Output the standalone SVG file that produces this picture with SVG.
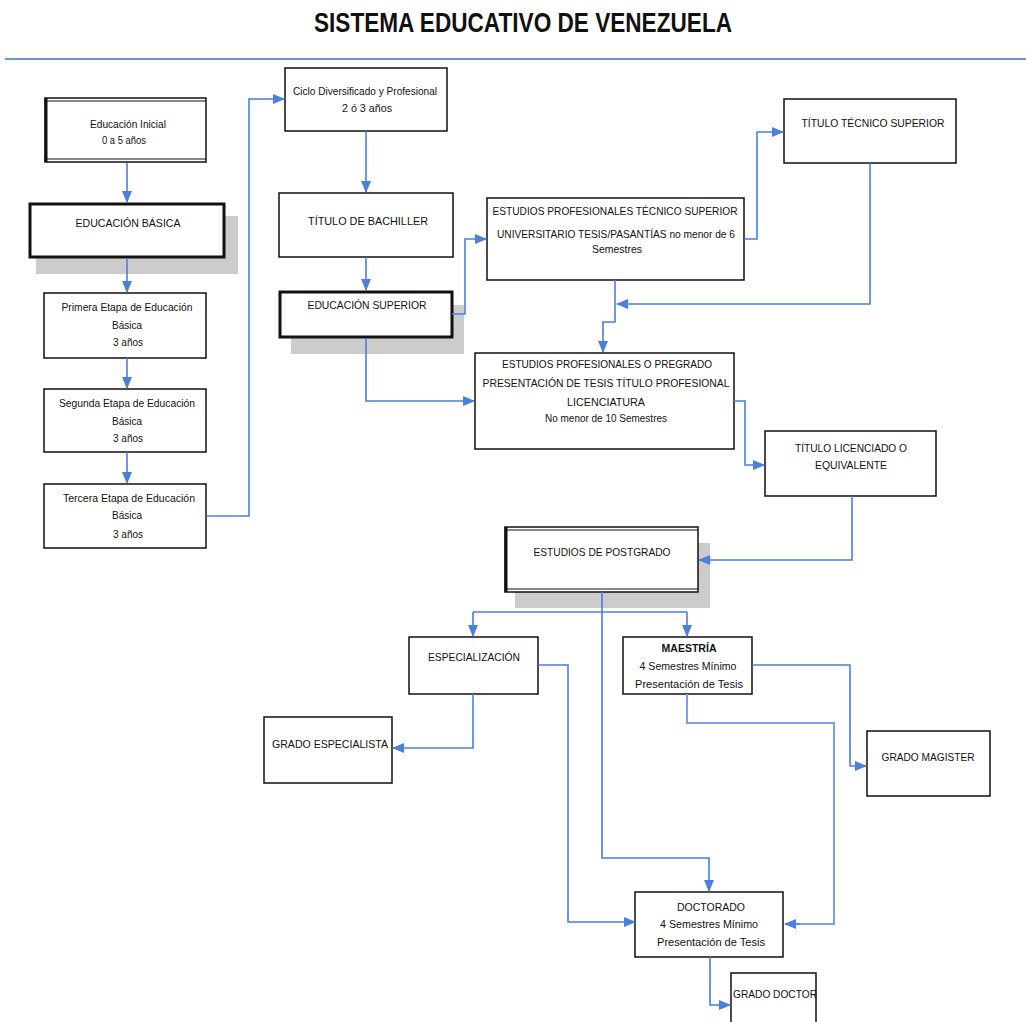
<svg xmlns="http://www.w3.org/2000/svg" width="1026" height="1022" viewBox="0 0 1026 1022">
<style>
.bx{fill:#fff;stroke:#111;stroke-width:1.5}
.thk{fill:#fff;stroke:#111;stroke-width:3}
.sh{fill:#cccccc}
.t{font-family:"Liberation Sans",Arial,sans-serif;font-size:11px;fill:#111;text-anchor:middle}
.c{fill:none;stroke:#4a7fdc;stroke-width:1.6}
.cl{fill:none;stroke:#7aa0ee;stroke-width:2}
</style>
<defs>
<marker id="ah" markerUnits="userSpaceOnUse" markerWidth="12" markerHeight="10" refX="11" refY="5" orient="auto">
<path d="M0,0 L12,5 L0,10 Z" fill="#4a7fdc"/>
</marker>
</defs>
<rect width="1026" height="1022" fill="#fff"/>
<text x="523" y="32" font-family="Liberation Sans,Arial,sans-serif" font-size="27" font-weight="bold" text-anchor="middle" textLength="418" lengthAdjust="spacingAndGlyphs" fill="#111">SISTEMA EDUCATIVO DE VENEZUELA</text>
<line x1="5" y1="59" x2="1026" y2="59" stroke="#6f96d2" stroke-width="2"/>

<g id="n-inicial">
<rect class="bx" x="45" y="98" width="161" height="64"/>
<line x1="45" y1="101" x2="206" y2="101" stroke="#111" stroke-width="1"/>
<line x1="45" y1="159" x2="206" y2="159" stroke="#111" stroke-width="1"/>
<line x1="46" y1="98" x2="46" y2="162" stroke="#111" stroke-width="3"/>
<text class="t" x="128" y="128" textLength="76" lengthAdjust="spacingAndGlyphs">Educación Inicial</text>
<text class="t" x="124" y="144" textLength="44" lengthAdjust="spacingAndGlyphs">0 a 5 años</text>
</g>

<g id="n-basica">
<rect class="sh" x="36" y="216" width="202" height="58"/>
<rect class="thk" x="30" y="204" width="194" height="53"/>
<text class="t" x="128" y="227" textLength="105" lengthAdjust="spacingAndGlyphs">EDUCACIÓN BÁSICA</text>
</g>

<g id="n-primera">
<rect class="bx" x="44" y="293" width="162" height="65"/>
<text class="t" x="127" y="311" textLength="131" lengthAdjust="spacingAndGlyphs">Primera Etapa de Educación</text>
<text class="t" x="127" y="329" textLength="30" lengthAdjust="spacingAndGlyphs">Básica</text>
<text class="t" x="128" y="346" textLength="30" lengthAdjust="spacingAndGlyphs">3 años</text>
</g>

<g id="n-segunda">
<rect class="bx" x="44" y="389" width="162" height="63"/>
<text class="t" x="127" y="407" textLength="136" lengthAdjust="spacingAndGlyphs">Segunda Etapa de Educación</text>
<text class="t" x="127" y="425" textLength="30" lengthAdjust="spacingAndGlyphs">Básica</text>
<text class="t" x="128" y="442" textLength="30" lengthAdjust="spacingAndGlyphs">3 años</text>
</g>

<g id="n-tercera">
<rect class="bx" x="44" y="484" width="162" height="64"/>
<text class="t" x="129" y="502" textLength="132" lengthAdjust="spacingAndGlyphs">Tercera Etapa de Educación</text>
<text class="t" x="127" y="519" textLength="30" lengthAdjust="spacingAndGlyphs">Básica</text>
<text class="t" x="128" y="538" textLength="30" lengthAdjust="spacingAndGlyphs">3 años</text>
</g>

<g id="n-ciclo">
<rect class="bx" x="285" y="68" width="162" height="63"/>
<text class="t" x="365" y="95" textLength="144" lengthAdjust="spacingAndGlyphs">Ciclo Diversificado y Profesional</text>
<text class="t" x="367" y="112" textLength="50" lengthAdjust="spacingAndGlyphs">2 ó 3 años</text>
</g>

<g id="n-bachiller">
<rect class="bx" x="279" y="193" width="174" height="64"/>
<text class="t" x="368" y="225" textLength="120" lengthAdjust="spacingAndGlyphs">TÍTULO DE BACHILLER</text>
</g>

<g id="n-superior">
<rect class="sh" x="291" y="305" width="173" height="49"/>
<rect class="thk" x="280" y="292" width="172" height="45"/>
<text class="t" x="367" y="309" textLength="119" lengthAdjust="spacingAndGlyphs">EDUCACIÓN SUPERIOR</text>
</g>

<g id="n-tecnico">
<rect class="bx" x="487" y="198" width="257" height="82"/>
<text class="t" x="615" y="215" textLength="245" lengthAdjust="spacingAndGlyphs">ESTUDIOS PROFESIONALES TÉCNICO SUPERIOR</text>
<text class="t" x="616" y="238" textLength="238" lengthAdjust="spacingAndGlyphs">UNIVERSITARIO TESIS/PASANTÍAS no menor de 6</text>
<text class="t" x="617" y="253" textLength="50" lengthAdjust="spacingAndGlyphs">Semestres</text>
</g>

<g id="n-titulo-tecnico">
<rect class="bx" x="784" y="99" width="172" height="64"/>
<text class="t" x="873" y="127" textLength="143" lengthAdjust="spacingAndGlyphs">TÍTULO TÉCNICO SUPERIOR</text>
</g>

<g id="n-pregrado">
<rect class="bx" x="475" y="353" width="259" height="96"/>
<text class="t" x="607" y="368" textLength="210" lengthAdjust="spacingAndGlyphs">ESTUDIOS PROFESIONALES O PREGRADO</text>
<text class="t" x="606" y="387" textLength="247" lengthAdjust="spacingAndGlyphs">PRESENTACIÓN DE TESIS TÍTULO PROFESIONAL</text>
<text class="t" x="606" y="406" textLength="78" lengthAdjust="spacingAndGlyphs">LICENCIATURA</text>
<text class="t" x="606" y="422" textLength="122" lengthAdjust="spacingAndGlyphs">No menor de 10 Semestres</text>
</g>

<g id="n-licenciado">
<rect class="bx" x="765" y="431" width="171" height="65"/>
<text class="t" x="851" y="452" textLength="112" lengthAdjust="spacingAndGlyphs">TÍTULO LICENCIADO O</text>
<text class="t" x="851" y="469" textLength="72" lengthAdjust="spacingAndGlyphs">EQUIVALENTE</text>
</g>

<g id="n-postgrado">
<rect class="sh" x="515" y="543" width="195" height="65"/>
<rect class="bx" x="505" y="527" width="193" height="65"/>
<line x1="505" y1="530" x2="698" y2="530" stroke="#111" stroke-width="1"/>
<line x1="505" y1="589" x2="698" y2="589" stroke="#111" stroke-width="1"/>
<line x1="506" y1="527" x2="506" y2="592" stroke="#111" stroke-width="3"/>
<text class="t" x="602" y="556" textLength="137" lengthAdjust="spacingAndGlyphs">ESTUDIOS DE POSTGRADO</text>
</g>

<g id="n-especializacion">
<rect class="bx" x="409" y="637" width="129" height="57"/>
<text class="t" x="474" y="661" textLength="92" lengthAdjust="spacingAndGlyphs">ESPECIALIZACIÓN</text>
</g>

<g id="n-maestria">
<rect class="bx" x="623" y="637" width="129" height="57"/>
<text class="t" x="689" y="652" textLength="55" lengthAdjust="spacingAndGlyphs" font-weight="bold">MAESTRÍA</text>
<text class="t" x="688" y="670" textLength="97" lengthAdjust="spacingAndGlyphs">4 Semestres Mínimo</text>
<text class="t" x="689" y="688" textLength="108" lengthAdjust="spacingAndGlyphs">Presentación de Tesis</text>
</g>

<g id="n-especialista">
<rect class="bx" x="264" y="717" width="128" height="66"/>
<text class="t" x="330" y="748" textLength="116" lengthAdjust="spacingAndGlyphs">GRADO ESPECIALISTA</text>
</g>

<g id="n-magister">
<rect class="bx" x="867" y="731" width="123" height="65"/>
<text class="t" x="928" y="761" textLength="93" lengthAdjust="spacingAndGlyphs">GRADO MAGISTER</text>
</g>

<g id="n-doctorado">
<rect class="bx" x="635" y="892" width="148" height="65"/>
<text class="t" x="711" y="911" textLength="68" lengthAdjust="spacingAndGlyphs">DOCTORADO</text>
<text class="t" x="709" y="928" textLength="98" lengthAdjust="spacingAndGlyphs">4 Semestres Mínimo</text>
<text class="t" x="711" y="946" textLength="108" lengthAdjust="spacingAndGlyphs">Presentación de Tesis</text>
</g>

<g id="n-doctor">
<rect class="bx" x="731" y="973" width="85" height="60"/>
<text class="t" x="775" y="998" textLength="84" lengthAdjust="spacingAndGlyphs">GRADO DOCTOR</text>
</g>

<g id="connectors">
<path class="c" d="M127,163 V202" marker-end="url(#ah)"/>
<path class="c" d="M127,258 V292" marker-end="url(#ah)"/>
<path class="c" d="M127,358 V388" marker-end="url(#ah)"/>
<path class="c" d="M127,452 V483" marker-end="url(#ah)"/>
<path class="c" d="M206,516 H249 V99 H284" marker-end="url(#ah)"/>
<path class="c" d="M366,131 V192" marker-end="url(#ah)"/>
<path class="c" d="M366,257 V290" marker-end="url(#ah)"/>
<path class="c" d="M452,314 H465 V239 H486" marker-end="url(#ah)"/>
<path class="c" d="M744,239 H757 V132 H783" marker-end="url(#ah)"/>
<path class="c" d="M870,163 V304 H617" marker-end="url(#ah)"/>
<path class="c" d="M615,280 V322 H603 V352" marker-end="url(#ah)"/>
<path class="c" d="M366,338 V401 H474" marker-end="url(#ah)"/>
<path class="c" d="M734,401 H745 V465 H764" marker-end="url(#ah)"/>
<path class="c" d="M852,496 V560 H699" marker-end="url(#ah)"/>
<path class="c" d="M602,592 V858 H709 V891" marker-end="url(#ah)"/>
<path class="c" d="M473,612 H687"/>
<path class="c" d="M473,612 V636" marker-end="url(#ah)"/>
<path class="c" d="M687,612 V636" marker-end="url(#ah)"/>
<path class="c" d="M473,694 V748 H393" marker-end="url(#ah)"/>
<path class="c" d="M538,665 H568 V922 H635" marker-end="url(#ah)"/>
<path class="c" d="M752,665 H850 V766 H866" marker-end="url(#ah)"/>
<path class="cl" d="M687,694 V723 H834 V924 H786"/>
<path class="c" d="M800,924 H785" marker-end="url(#ah)"/>
<path class="c" d="M710,957 V1005 H730" marker-end="url(#ah)"/>
</g>
</svg>
